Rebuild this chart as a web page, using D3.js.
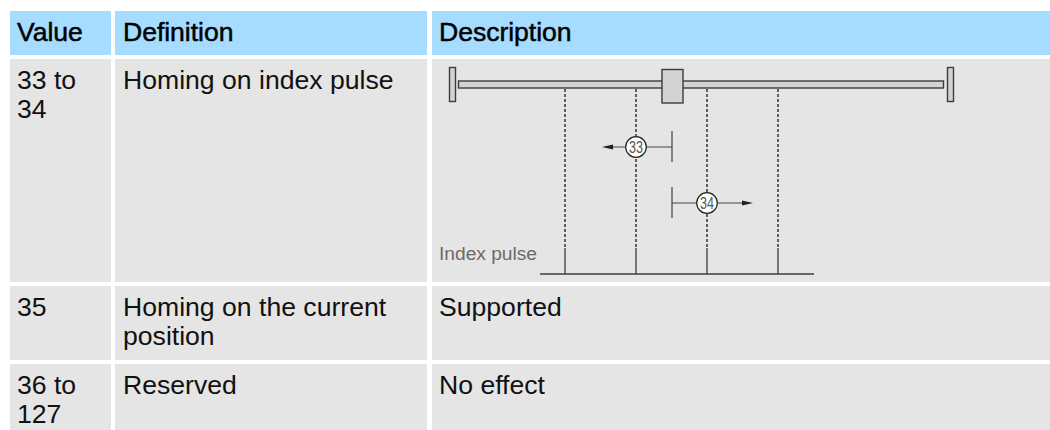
<!DOCTYPE html>
<html>
<head>
<meta charset="utf-8">
<script src="https://cdn.jsdelivr.net/npm/d3@7"></script>
<style>
html,body{margin:0;padding:0;background:#fff;overflow:hidden;}
text{font-family:"Liberation Sans",Arial,sans-serif;}
</style>
</head>
<body>
<script>
// table content
var headers=["Value","Definition","Description"];
var values=[["33 to","34"],["35"],["36 to","127"]];
var definitions=[["Homing on index pulse"],["Homing on the current","position"],["Reserved"]];
var descriptions=[[],["Supported"],["No effect"]];
// diagram content
var pulses=[1,2,3,4];
var moves=[33,34];
var pulseLabel="Index pulse";

var width=1050,height=430;
var colX=[10,115,432],colW=[101,312,618];
var rowY=[59,286,364],rowH=[223,74,66];
var textPad=[7,8,7];

var svg=d3.select("body").append("svg").attr("width",width).attr("height",height).style("display","block");

var head=svg.append("g");
head.selectAll("rect").data(headers).enter().append("rect")
    .attr("x",function(d,i){return colX[i];}).attr("y",11)
    .attr("width",function(d,i){return colW[i];}).attr("height",44)
    .attr("fill","#a6dcff");
head.selectAll("text").data(headers).enter().append("text")
    .attr("x",function(d,i){return colX[i]+textPad[i];}).attr("y",41)
    .attr("font-size",26.6).attr("letter-spacing","-0.05px")
    .attr("fill","#000").attr("stroke","#000").attr("stroke-width",0.5)
    .text(function(d){return d;});

function addCells(lines,col){
    lines.forEach(function(cell,r){
        svg.append("rect").attr("x",colX[col]).attr("y",rowY[r])
            .attr("width",colW[col]).attr("height",rowH[r]).attr("fill","#e5e5e5");
        cell.forEach(function(line,k){
            svg.append("text").attr("x",colX[col]+textPad[col]).attr("y",rowY[r]+30+k*29)
                .attr("font-size",26.6).attr("fill","#111").text(line);
        });
    });
}
addCells(values,0);
addCells(definitions,1);
addCells(descriptions,2);

// diagram
var dark="#3c3c3c",fillGrey="#d2d3d5";
var x=d3.scaleLinear().domain([1,4]).range([565,778]);
var g=svg.append("g");

g.selectAll(".dash").data(pulses).enter().append("line").attr("class","dash")
    .attr("x1",function(d){return x(d);}).attr("x2",function(d){return x(d);})
    .attr("y1",89).attr("y2",248)
    .attr("stroke","#333").attr("stroke-width",1.5).attr("stroke-dasharray","3 2");
g.selectAll(".pulse").data(pulses).enter().append("line").attr("class","pulse")
    .attr("x1",function(d){return x(d);}).attr("x2",function(d){return x(d);})
    .attr("y1",248).attr("y2",274)
    .attr("stroke",dark).attr("stroke-width",1.3);
g.append("line").attr("x1",540).attr("x2",814).attr("y1",274).attr("y2",274)
    .attr("stroke",dark).attr("stroke-width",1.4);

g.append("rect").attr("x",458.5).attr("y",81).attr("width",485).attr("height",7)
    .attr("fill",fillGrey).attr("stroke",dark).attr("stroke-width",1.4);
[449.5,947.5].forEach(function(sx){
    g.append("rect").attr("x",sx).attr("y",67.5).attr("width",6).attr("height",34)
        .attr("fill",fillGrey).attr("stroke",dark).attr("stroke-width",1.4);
});
g.append("rect").attr("x",662).attr("y",69.5).attr("width",21).attr("height",33.5)
    .attr("fill",fillGrey).attr("stroke",dark).attr("stroke-width",1.4);

g.append("text").attr("x",439).attr("y",260).attr("font-size",19.2)
    .attr("fill","#6a6a6a").attr("font-family","Liberation Sans")
    .attr("textLength",98).attr("lengthAdjust","spacingAndGlyphs")
    .text(pulseLabel);

var startX=672;
moves.forEach(function(m,i){
    var cy=i==0?147:203,dir=i==0?-1:1,cx=x(i==0?2:3);
    var tip=i==0?602:753;
    g.append("line").attr("x1",startX).attr("x2",startX).attr("y1",cy-16).attr("y2",cy+15)
        .attr("stroke","#222").attr("stroke-width",1);
    g.append("line").attr("x1",startX).attr("x2",tip-dir*8).attr("y1",cy).attr("y2",cy)
        .attr("stroke","#444").attr("stroke-width",1);
    g.append("path").attr("d",d3.line()([[tip,cy],[tip-dir*11,cy-2.5],[tip-dir*11,cy+2.5]])+"Z")
        .attr("fill","#222");
    g.append("circle").attr("cx",cx).attr("cy",cy).attr("r",10.3)
        .attr("fill","#fff").attr("stroke","#222").attr("stroke-width",1.2);
    g.append("text").attr("x",cx).attr("y",cy+6).attr("text-anchor","middle")
        .attr("font-size",17).attr("font-family","Liberation Sans")
        .attr("textLength",14).attr("lengthAdjust","spacingAndGlyphs")
        .attr("fill","#555").text(m);
});
</script>
</body>
</html>
